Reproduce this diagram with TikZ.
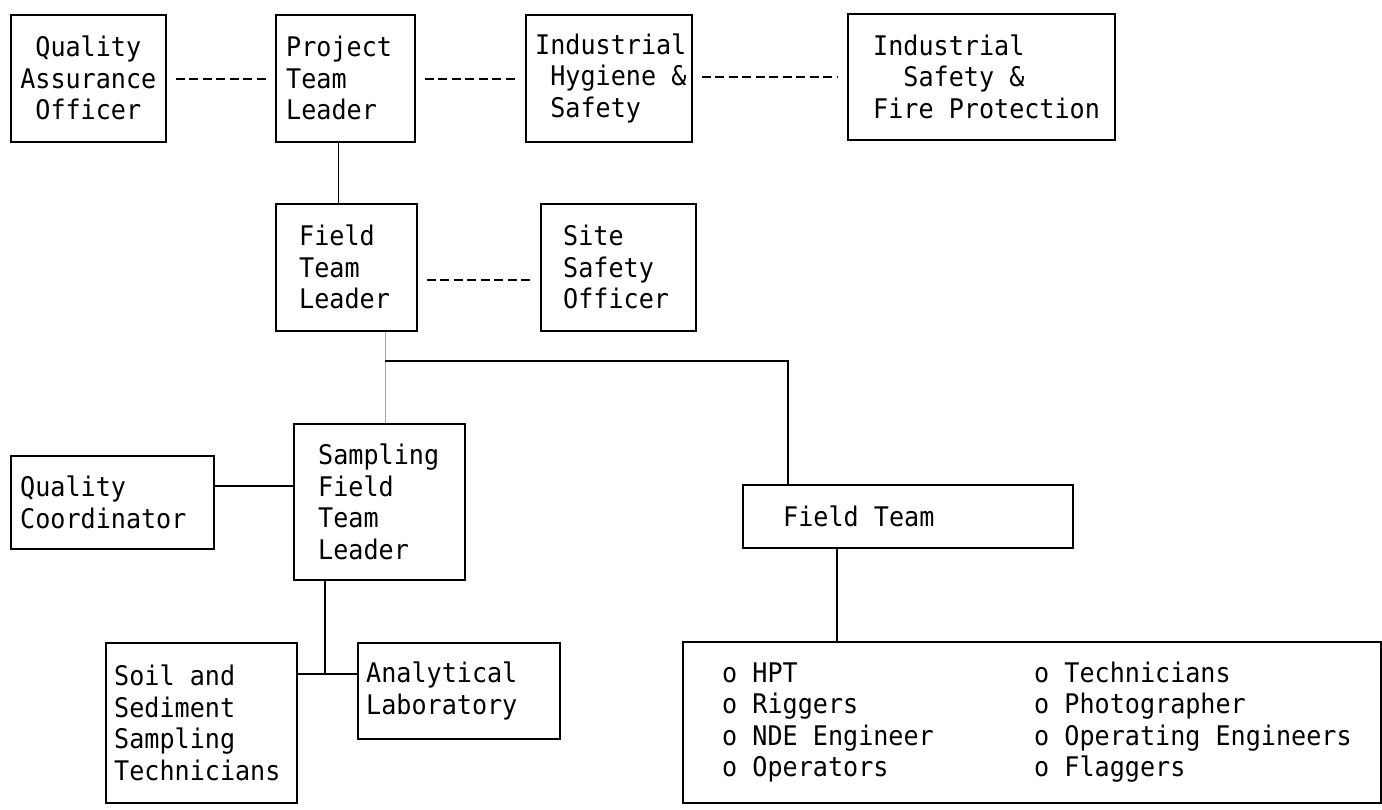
\documentclass[tikz,border=0pt]{standalone}
\usepackage{fontspec}
\newfontfamily\typer[FakeStretch=0.93]{DejaVu Sans Mono}
\begin{document}
\begin{tikzpicture}[x=1pt,y=-1pt,
  box/.style={draw, line width=1.6pt, inner sep=0pt, anchor=north west},
  lbl/.style={inner sep=0pt, align=left, anchor=west,
              font=\typer\fontsize{27}{31.5}\selectfont},
  link/.style={line width=1.4pt},
  peer/.style={line width=1.4pt, dash pattern=on 9pt off 4.5pt,
               shorten <=9pt, shorten >=9pt},
  faint/.style={line width=1pt, black!35}]
\useasboundingbox (0,0) rectangle (1382,809);

% upper tier
\node[box, minimum width=155, minimum height=127] (qao) at (10,14) {};
\node[box, minimum width=139, minimum height=127] (ptl) at (275,14) {};
\node[box, minimum width=166, minimum height=127] (ih) at (525,14) {};
\node[box, minimum width=267, minimum height=126] (isfp) at (847,13) {};
\node[lbl, align=center, anchor=center] (qao-t) at (qao.center) {Quality\\Assurance\\Officer};
\node[lbl] (ptl-t) at ([xshift=11]ptl.west) {Project\\Team\\Leader};
\node[lbl] (ih-t) at ([xshift=10]ih.west) {Industrial\\\hphantom{x}Hygiene \&\\\hphantom{x}Safety};
\node[lbl] (isfp-t) at ([xshift=26]isfp.west) {Industrial\\\hphantom{xx}Safety \&\\Fire Protection};

% field leadership
\node[box, minimum width=141, minimum height=127] (ftl) at (275,203) {};
\node[box, minimum width=155, minimum height=127] (sso) at (540,203) {};
\node[lbl] (ftl-t) at ([xshift=24]ftl.west) {Field\\Team\\Leader};
\node[lbl] (sso-t) at ([xshift=23]sso.west) {Site\\Safety\\Officer};

% sampling branch
\node[box, minimum width=171, minimum height=156] (sftl) at (293,423) {};
\node[box, minimum width=203, minimum height=93] (qc) at (10,455) {};
\node[box, minimum width=191, minimum height=160] (soil) at (105,642) {};
\node[box, minimum width=202, minimum height=96] (anal) at (357,642) {};
\node[lbl] (sftl-t) at ([xshift=25]sftl.west) {Sampling\\Field\\Team\\Leader};
\node[lbl] (qc-t) at ([xshift=10]qc.west) {Quality\\Coordinator};
\node[lbl] (soil-t) at ([xshift=9]soil.west) {Soil and\\Sediment\\Sampling\\Technicians};
\node[lbl] (anal-t) at ([xshift=9]anal.west) {Analytical\\Laboratory};

% field team branch
\node[box, minimum width=330, minimum height=63] (ft) at (742,484) {};
\node[box, minimum width=698, minimum height=161] (list) at (682,641) {};
\node[lbl] (ft-t) at ([xshift=41]ft.west) {Field Team};
\node[lbl] (list-a) at ([xshift=40]list.west) {o HPT\\o Riggers\\o NDE Engineer\\o Operators};
\node[lbl] (list-b) at ([xshift=352]list.west) {o Technicians\\o Photographer\\o Operating Engineers\\o Flaggers};

% staff relations
\draw[peer] (qao.east |- 0,79) -- (ptl.west |- 0,79);
\draw[peer] (ptl.east |- 0,79) -- (ih.west |- 0,79);
\draw[peer] (ih.east |- 0,77) -- (isfp.west |- 0,77);
\draw[peer] (ftl.east |- 0,280) -- (sso.west |- 0,280);

% line of authority
\draw[link] ([xshift=-7]ptl.south) -- ([xshift=-7]ptl.south |- ftl.north);
\coordinate (split) at (385,361);
\coordinate (turn) at (788,361);
\draw[faint] (split |- ftl.south) -- (split |- sftl.north);
\draw[link] (split) -- (turn) -- (turn |- ft.north);
\draw[link] ([yshift=16.5]qc.east) -- ([yshift=16.5]qc.east -| sftl.west);
\coordinate (fork) at (325,674);
\draw[link] (fork |- sftl.south) -- (fork);
\draw[link] (fork -| soil.east) -- (fork -| anal.west);
\coordinate (drop) at (837,547);
\draw[link] (drop |- ft.south) -- (drop |- list.north);
\end{tikzpicture}
\end{document}
